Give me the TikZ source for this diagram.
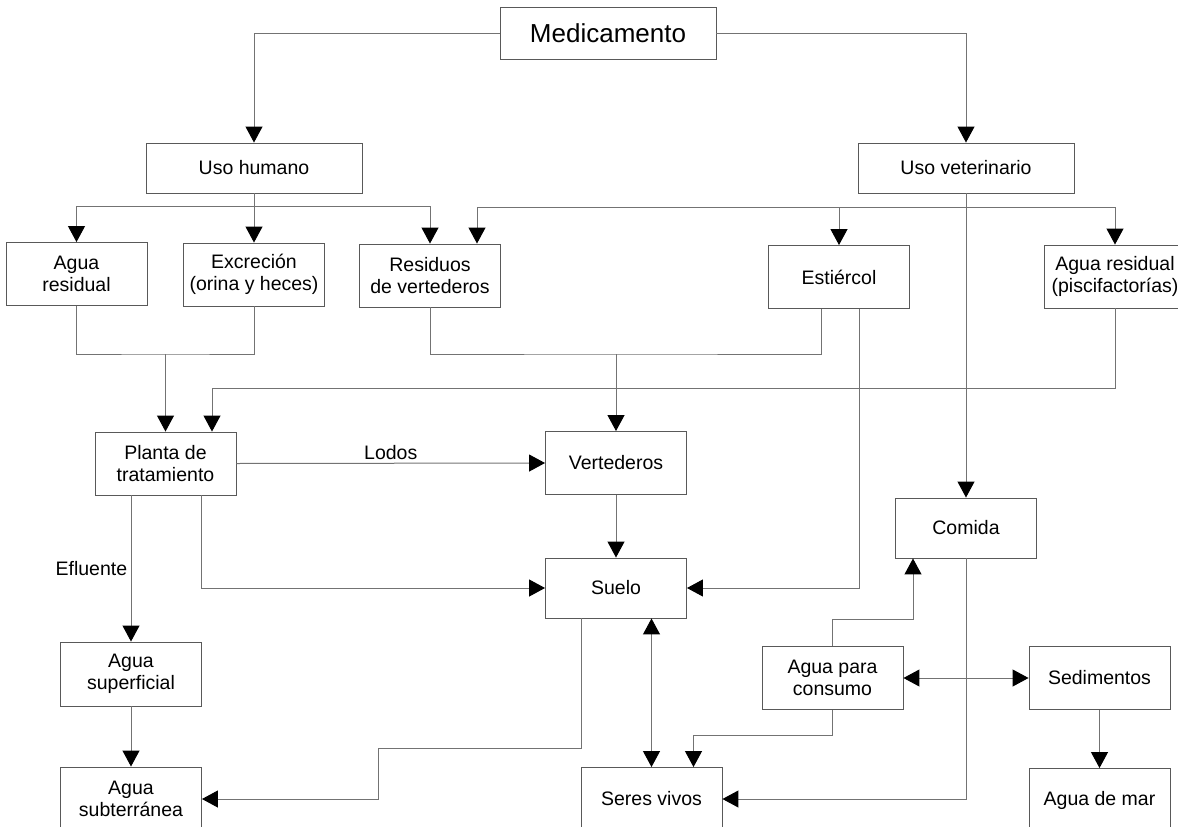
\documentclass[tikz,border=0pt]{standalone}
\usepackage{fontspec}
\setmainfont{Liberation Sans}
\usetikzlibrary{arrows.meta, calc}

\begin{document}
\begin{tikzpicture}[x=1pt, y=-1pt,
  box/.style={draw=black!65, line width=0.9pt, inner sep=0pt, minimum width=141pt, minimum height=63pt, align=center, font=\fontsize{19.5}{22}\selectfont},
  bigbox/.style={box, minimum width=216pt, minimum height=50pt},
  conn/.style={draw=black!55, line width=1pt},
  arr/.style={conn, -{Triangle[length=16pt, width=17pt, color=black]}},
  dbl/.style={conn, {Triangle[length=16pt, width=17pt, color=black]}-{Triangle[length=16pt, width=17pt, color=black]}},
  lbl/.style={font=\fontsize{19.5}{22}\selectfont}]
\useasboundingbox (0,0) rectangle (1178,827);
\node[bigbox, minimum height=52pt, font=\fontsize{26}{30}\selectfont] (med) at (608,33) {Medicamento};
\node[bigbox] (hum) at (254,168) {Uso humano};
\node[bigbox] (vet) at (966,168) {Uso veterinario};
\node[box] (ar) at (76.5,274) {Agua\\residual};
\node[box] (ex) at (254,274.5) {Excreción\\(orina y heces)};
\node[box] (rv) at (430,275.5) {Residuos\\de vertederos};
\node[box] (es) at (839,277) {Estiércol};
\node[box] (ap) at (1115,276.5) {Agua residual\\(piscifactorías)};
\node[box] (pt) at (165.5,463.5) {Planta de\\tratamiento};
\node[box] (vt) at (616,463) {Vertederos};
\node[box, minimum height=60pt] (cm) at (966,528) {Comida};
\node[box, minimum height=60pt] (su) at (616,588) {Suelo};
\node[box, minimum height=64pt] (as) at (131,674) {Agua\\superficial};
\node[box] (ac) at (832.5,678) {Agua para\\consumo};
\node[box] (se) at (1099.5,678) {Sedimentos};
\node[box, minimum height=64pt] (asb) at (131,799) {Agua\\subterránea};
\node[box] (sv) at (651.5,799) {Seres vivos};
\node[box] (am) at (1099.5,800) {Agua de mar};
\coordinate (hsp) at (254,206);
\coordinate (vsp) at (966,207);
\coordinate (j1) at (pt.north |- 0,354);
\coordinate (j2) at (vt.north |- 0,354);
\coordinate (c1) at (378,748);
% Medicamento
\draw[arr] (med.west) -| (hum.north);
\draw[arr] (med.east) -| (vet.north);
% Uso humano
\draw[conn] (hum.south) -- (hsp);
\draw[arr] (hsp) -- (ex.north);
\draw[arr] (hsp) -| (ar.north);
\draw[arr] (hsp) -| (rv.north);
% Uso veterinario
\draw[arr] (vet.south) -- (cm.north);
\draw[arr] (vsp) -| (es.north);
\draw[arr] (vsp) -| (ap.north);
\draw[arr] (vsp) -| ($(rv.north)+(47,0)$);
% to planta / vertederos
\draw[conn] (ar.south) |- (j1) -| (ex.south);
\draw[arr] (j1) -- (pt.north);
\draw[arr] (ap.south) -- ++(0,80) -| ($(pt.north)+(46.5,0)$);
\draw[conn] (rv.south) |- (j2) -| ($(es.south)+(-18,0)$);
\draw[arr] (j2) -- (vt.north);
\draw[arr] ($(es.south)+(20.5,0)$) |- (su.east);
% Planta de tratamiento
\draw[arr] (pt.east) -- node[lbl, above] {Lodos} (vt.west);
\draw[arr] (pt.south -| as.north) -- node[lbl, left] {Efluente} (as.north);
\draw[arr] ($(pt.south)+(36,0)$) |- (su.west);
\draw[arr] (vt.south) -- (su.north);
\draw[arr] (as.south) -- (asb.north);
\draw[arr] ($(su.south)+(-35,0)$) |- (c1) |- (asb.east);
\draw[dbl] (su.south -| sv.north) -- (sv.north);
% Agua para consumo
\draw[arr] (ac.north) -- ++(0,-27) -| ($(cm.south)+(-53,0)$);
\draw[dbl] (ac.east) -- (se.west);
\draw[arr] (ac.south) -- ++(0,26) -| ($(sv.north)+(42,0)$);
\draw[arr] (cm.south) |- (sv.east);
\draw[arr] (se.south) -- (am.north);
\end{tikzpicture}
\end{document}
